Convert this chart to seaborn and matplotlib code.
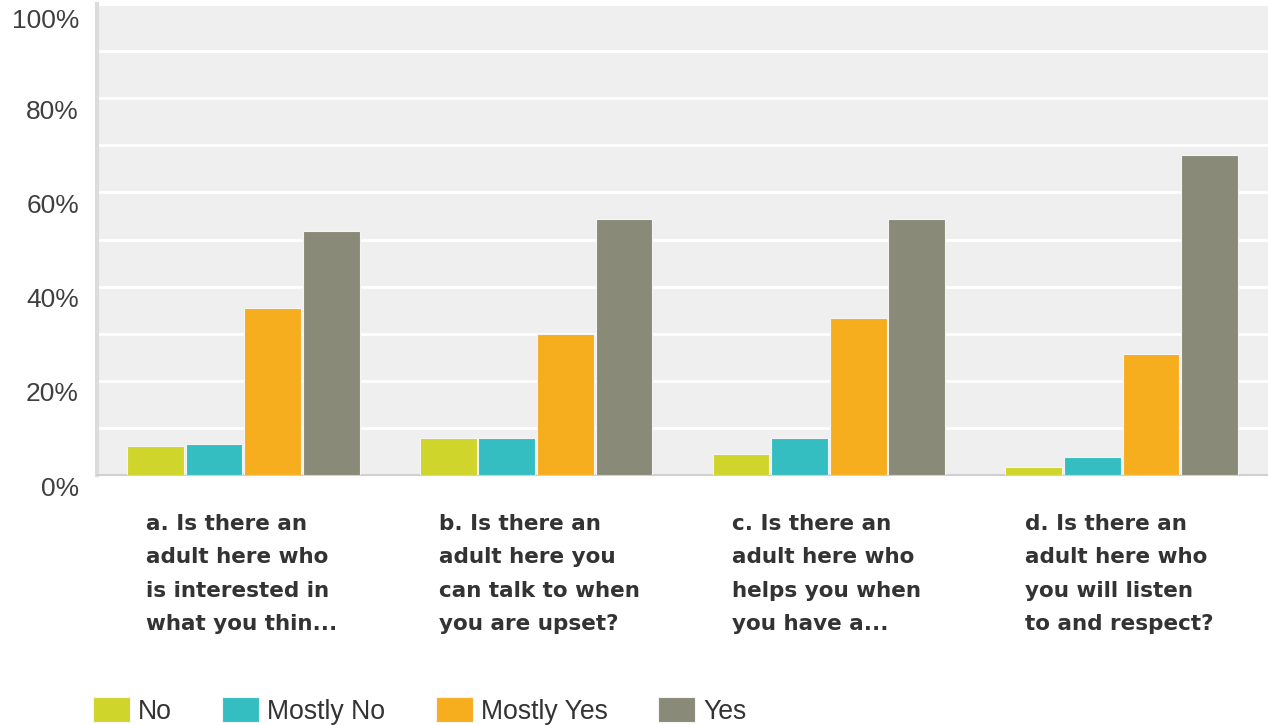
import matplotlib
matplotlib.use("Agg")
import matplotlib.pyplot as plt
import matplotlib.transforms as mtransforms
import seaborn as sns
import pandas as pd

categories = [
    "a. Is there an\nadult here who\nis interested in\nwhat you thin...",
    "b. Is there an\nadult here you\ncan talk to when\nyou are upset?",
    "c. Is there an\nadult here who\nhelps you when\nyou have a...",
    "d. Is there an\nadult here who\nyou will listen\nto and respect?",
]
series = ["No", "Mostly No", "Mostly Yes", "Yes"]
no_vals = [6.2, 7.9, 4.5, 1.8]
mostly_no_vals = [6.6, 7.9, 7.9, 3.9]
mostly_yes_vals = [35.5, 30.0, 33.4, 25.7]
yes_vals = [51.7, 54.3, 54.3, 67.9]
yticks = [0, 20, 40, 60, 80, 100]
ytick_labels = ["0%", "20%", "40%", "60%", "80%", "100%"]
colors = ["#CFD52A", "#35BEC1", "#F6AE1F", "#8A8A78"]

rows = []
for s, vals in zip(series, [no_vals, mostly_no_vals, mostly_yes_vals, yes_vals]):
    for c, v in zip(categories, vals):
        rows.append({"question": c, "answer": s, "pct": v})
df = pd.DataFrame(rows)

sns.set_theme(style="white")
plt.rcParams["font.family"] = ["Liberation Sans", "DejaVu Sans"]

fig = plt.figure(figsize=(12.68, 7.25), dpi=100)
ax = fig.add_axes([97 / 1268, 1 - 475 / 725, 1 - 97 / 1268, (475 - 4) / 725])
ax.set_facecolor("#EFEFEF")

sns.barplot(data=df, x="question", y="pct", hue="answer", order=categories,
            hue_order=series, palette=colors, saturation=1, width=0.8, gap=0.03,
            edgecolor="#F4F4F4", linewidth=0.8, ax=ax, legend=True, zorder=3)

ax.set_ylim(0, 100)
ax.set_xlim(-0.5, 3.5)
ax.set_yticks(yticks)
ax.set_yticklabels(ytick_labels, fontsize=19, color="#3F3F3F")
ax.set_yticks(range(10, 100, 20), minor=True)
ax.grid(True, axis="y", which="both", color="white", linewidth=2, zorder=0)
ax.set_axisbelow(True)
ax.tick_params(axis="y", length=0, pad=13)
ax.tick_params(axis="y", which="minor", length=0)
ax.tick_params(axis="x", length=0, pad=28)
ax.set_xlabel("")
ax.set_ylabel("")

for sp in ["top", "right"]:
    ax.spines[sp].set_visible(False)
ax.spines["left"].set_color("#DCDCDC")
ax.spines["left"].set_linewidth(3)
ax.spines["bottom"].set_color("#D0D0D0")
ax.spines["bottom"].set_linewidth(1.5)

for lab in ax.get_yticklabels():
    dy = -15 if lab.get_text() == "100%" else -11
    lab.set_transform(lab.get_transform()
                      + mtransforms.ScaledTranslation(0, dy / 100, fig.dpi_scale_trans))

xshift = mtransforms.ScaledTranslation(-97 / 100, 0, fig.dpi_scale_trans)
for lab in ax.get_xticklabels():
    lab.set_horizontalalignment("left")
    lab.set_fontfamily("DejaVu Sans")
    lab.set_fontweight("bold")
    lab.set_fontsize(15.5)
    lab.set_color("#333333")
    lab.set_linespacing(1.84)
    lab.set_transform(lab.get_transform() + xshift)

leg = ax.legend(loc="center left", bbox_to_anchor=(93 / 1268, 1 - 711 / 725),
                bbox_transform=fig.transFigure, ncol=4, frameon=False,
                fontsize=19.2, handlelength=1.38, handleheight=1.05,
                handletextpad=0.3, columnspacing=1.9, borderpad=0,
                borderaxespad=0)
for t in leg.get_texts():
    t.set_color("#333333")

fig.savefig("out.png", dpi=100, facecolor="white")
